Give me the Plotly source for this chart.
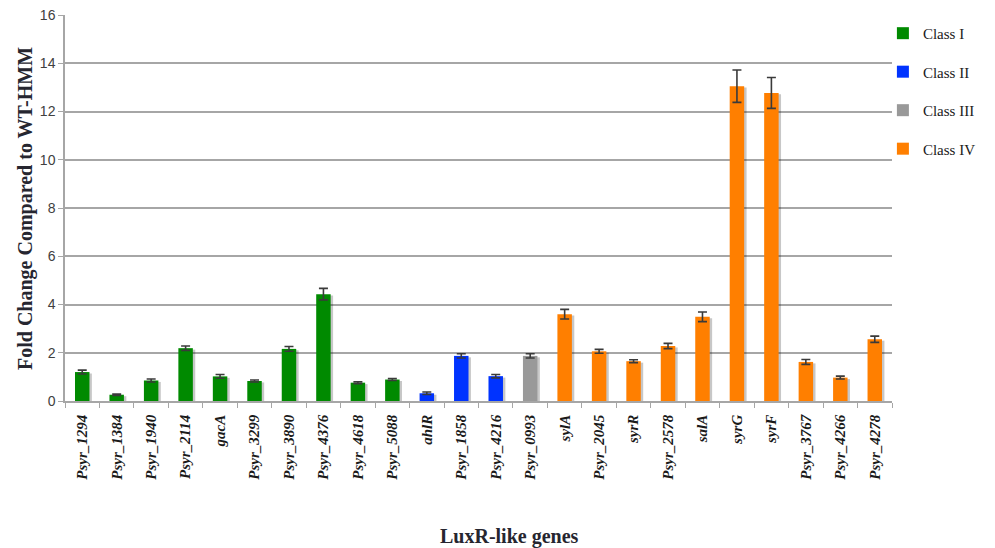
import plotly.graph_objects as go

# Fold change of LuxR-like genes relative to WT-HMM, grouped by class
genes = ["Psyr_1294", "Psyr_1384", "Psyr_1940", "Psyr_2114", "gacA", "Psyr_3299",
         "Psyr_3890", "Psyr_4376", "Psyr_4618", "Psyr_5088", "ahlR", "Psyr_1858",
         "Psyr_4216", "Psyr_0993", "sylA", "Psyr_2045", "syrR", "Psyr_2578", "salA",
         "syrG", "syrF", "Psyr_3767", "Psyr_4266", "Psyr_4278"]
fold_change = [1.20, 0.26, 0.85, 2.19, 1.02, 0.83, 2.16, 4.43, 0.76, 0.89, 0.32, 1.87,
               1.03, 1.87, 3.60, 2.06, 1.65, 2.28, 3.49, 13.05, 12.77, 1.62, 0.97, 2.56]
std_err = [0.08, 0.03, 0.06, 0.09, 0.08, 0.04, 0.10, 0.24, 0.04, 0.04, 0.05, 0.09,
           0.07, 0.09, 0.20, 0.08, 0.06, 0.11, 0.20, 0.67, 0.64, 0.10, 0.06, 0.13]
gene_class = ["Class I"] * 10 + ["Class II"] * 3 + ["Class III"] + ["Class IV"] * 10

classes = ["Class I", "Class II", "Class III", "Class IV"]
class_colors = {"Class I": "#008a00", "Class II": "#0033ff",
                "Class III": "#999999", "Class IV": "#ff7f00"}

SERIF = "Liberation Serif, Times New Roman, serif"
SANS = "Liberation Sans, Arial, sans-serif"
BAR_W = 0.42

fig = go.Figure()

# soft drop shadow behind each bar
fig.add_trace(go.Bar(
    x=genes, y=[v - 0.06 for v in fold_change], width=BAR_W, offset=-BAR_W / 2 + 0.07,
    marker=dict(color="rgba(0,0,0,0.22)", line=dict(width=0)),
    showlegend=False, hoverinfo="skip",
))

for cls in classes:
    idx = [i for i, c in enumerate(gene_class) if c == cls]
    fig.add_trace(go.Bar(
        x=[genes[i] for i in idx],
        y=[fold_change[i] for i in idx],
        name=cls, legendgroup=cls,
        width=BAR_W, offset=-BAR_W / 2,
        marker=dict(color=class_colors[cls], line=dict(width=0)),
        error_y=dict(type="data", array=[std_err[i] for i in idx],
                     color="#3a3a3a", thickness=1.6, width=4.5),
    ))

ticktext = [f"<b><i>{g}</i></b>" for g in genes]

fig.update_layout(
    template="none",
    width=995, height=548,
    margin=dict(l=65, r=103, t=15, b=147, autoexpand=False),
    paper_bgcolor="white", plot_bgcolor="white",
    barmode="overlay",
    showlegend=True,
    legend=dict(x=0.989, xanchor="left", y=0.995, yanchor="top",
                font=dict(family=SERIF, size=15, color="#1a1a1a"),
                tracegroupgap=16, bgcolor="rgba(0,0,0,0)"),
    xaxis=dict(
        automargin=False,
        categoryorder="array", categoryarray=genes,
        tickmode="array", tickvals=genes, ticktext=ticktext,
        tickangle=-90, tickfont=dict(family=SERIF, size=15, color="#1a1a1a"),
        ticklabelstandoff=6,
        showline=True, linecolor="#a6a6a6", linewidth=1.5,
        ticks="outside", tickson="boundaries", ticklen=5, tickcolor="#a6a6a6",
        showgrid=False, zeroline=False, range=[-0.5, len(genes) - 0.5],
    ),
    yaxis=dict(
        automargin=False,
        range=[0, 16], dtick=2, tick0=0,
        tickfont=dict(family=SANS, size=14, color="#404040"),
        showline=True, linecolor="#a6a6a6", linewidth=1.5,
        ticks="outside", ticklen=5, tickcolor="#a6a6a6",
        showgrid=True, gridcolor="#a6a6a6", gridwidth=1.5,
        zeroline=False,
    ),
    annotations=[
        dict(text="<b>Fold Change Compared to WT-HMM</b>", textangle=-90,
             xref="paper", yref="paper", x=-0.0484, y=0.5,
             xanchor="center", yanchor="middle",
             showarrow=False, font=dict(family=SERIF, size=20, color="#262630")),
        dict(text="<b>LuxR-like genes</b>",
             xref="paper", yref="paper", x=0.538, y=-0.352,
             xanchor="center", yanchor="middle",
             showarrow=False, font=dict(family=SERIF, size=20, color="#262630")),
    ],
)

fig.write_html("out.html")
